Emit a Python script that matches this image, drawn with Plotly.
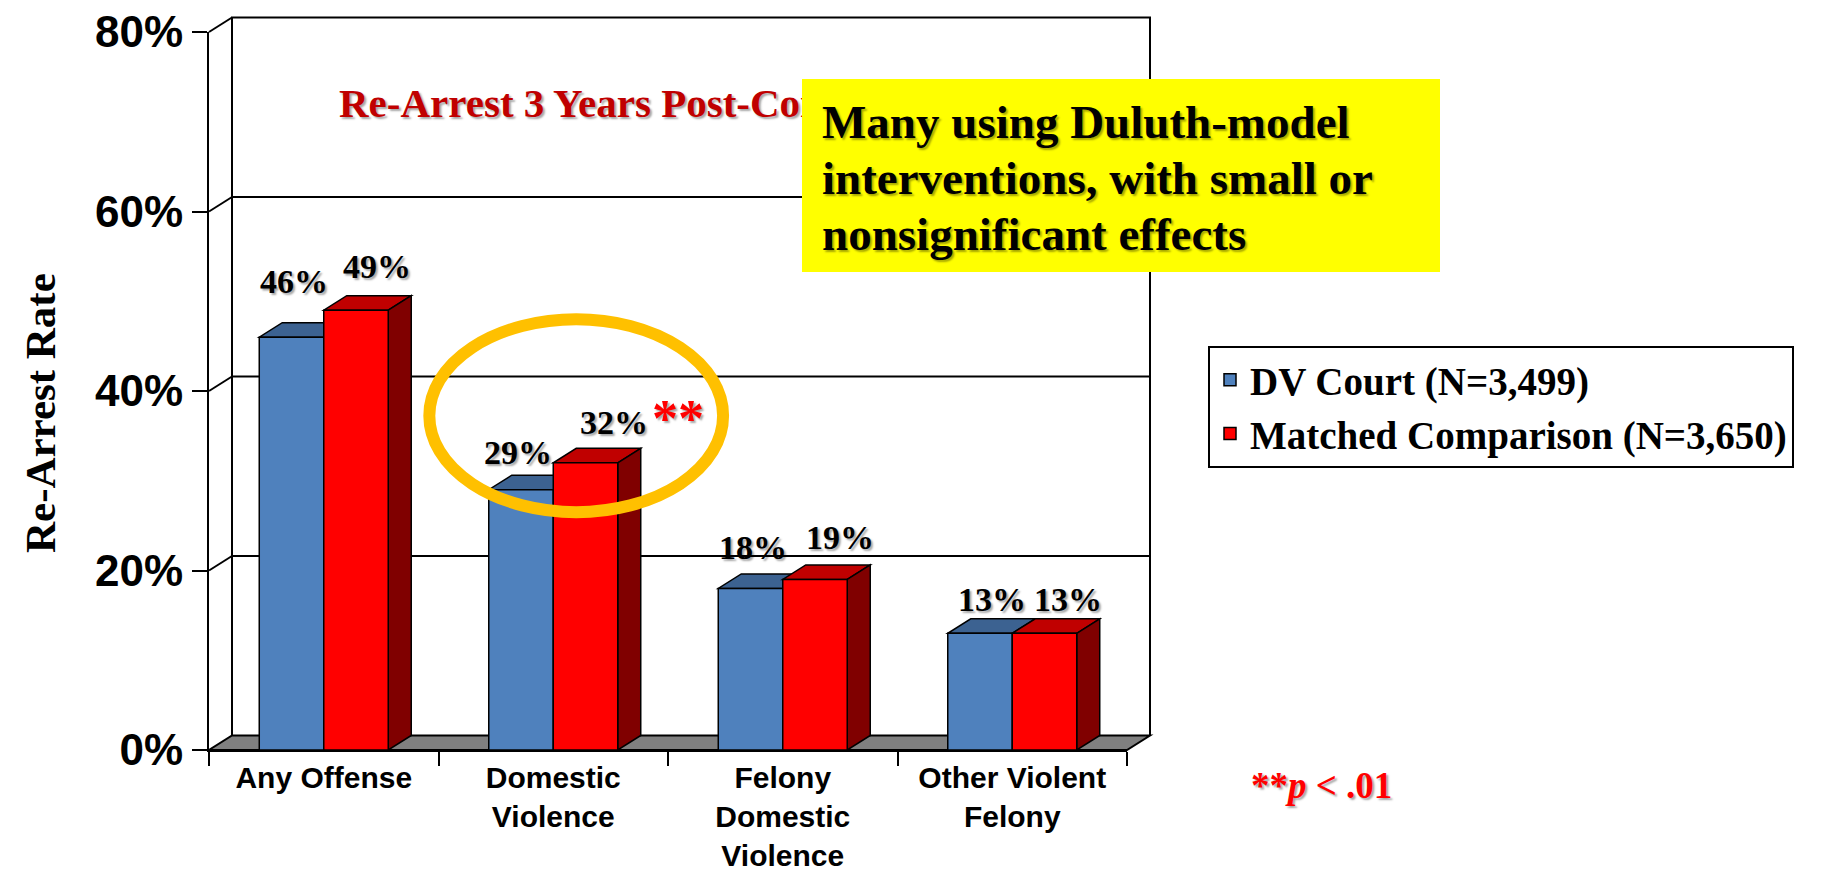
import plotly.graph_objects as go

# ---------------- data ----------------
categories = ["Any Offense", "Domestic<br>Violence", "Felony<br>Domestic<br>Violence", "Other Violent<br>Felony"]
dv_court = [46, 29, 18, 13]
matched = [49, 32, 19, 13]
series_names = ["DV Court (N=3,499)", "Matched Comparison (N=3,650)"]
y_tick_vals = [0, 20, 40, 60, 80]
y_tick_text = ["0%", "20%", "40%", "60%", "80%"]
callout_lines = ["Many using Duluth-model", "interventions, with small or", "nonsignificant effects"]

# ---------------- layout constants ----------------
W, H = 1824, 870
ML, MR, MT, MB = 201, 705, 24, 128
PW = W - ML - MR
PH = H - MT - MB
Y_MAX = 80
N = len(categories)
BAR = 0.281                      # bar width in category units
DX = 23 / (PW / N)               # 3-D depth, category units
DY = 14.5 / (PH / Y_MAX)         # 3-D depth, % units
DXP, DYP = DX / N, DY / Y_MAX    # same depth in paper units

SERIF = "Times New Roman, Liberation Serif, serif"
SANS = "Arial, Liberation Sans, sans-serif"
SHADOW = "2px 2px 2px rgba(0,0,0,0.35)"

BLUE, BLUE_TOP = "#4F81BD", "#3C6291"
RED, RED_TOP, RED_SIDE = "#FF0000", "#C00000", "#800000"

# label offsets (pixels) relative to the top-front centre of each bar
blue_lbl_shift = [(2, 56), (-3, 37), (2, 41), (12, 34)]
red_lbl_shift = [(21, 44), (29, 40), (25, 42), (24, 34)]


def px_to_paper_x(px):
    return (px - ML) / PW


def px_to_paper_y(py):
    return 1 - (py - MT) / PH


fig = go.Figure()
fig.add_trace(go.Bar(x=categories, y=dv_court, name=series_names[0],
                     marker=dict(color=BLUE, line=dict(color="black", width=1.5))))
fig.add_trace(go.Bar(x=categories, y=matched, name=series_names[1],
                     marker=dict(color=RED, line=dict(color="black", width=1.5))))

shapes = []
LINE = dict(color="black", width=2)
# back wall outline
shapes.append(dict(type="path", xref="paper", yref="paper", layer="below",
                   path=f"M{DXP},{DYP} L{DXP},{1 + DYP} L{1 + DXP},{1 + DYP} L{1 + DXP},{DYP}",
                   line=LINE))
# back-wall gridlines
for t in y_tick_vals[1:-1]:
    yp = t / Y_MAX + DYP
    shapes.append(dict(type="line", xref="paper", yref="paper", layer="below",
                       x0=DXP, x1=1 + DXP, y0=yp, y1=yp, line=LINE))
# side-wall diagonals at each tick
for t in y_tick_vals[1:]:
    shapes.append(dict(type="line", xref="paper", yref="paper", layer="below",
                       x0=0, x1=DXP, y0=t / Y_MAX, y1=t / Y_MAX + DYP, line=LINE))
# floor
shapes.append(dict(type="path", xref="paper", yref="paper", layer="below",
                   path=f"M0,0 L1,0 L{1 + DXP},{DYP} L{DXP},{DYP} Z",
                   fillcolor="#808080", line=LINE))

# bar tops and sides
for i in range(N):
    for left, v, col in ((i - BAR, dv_court[i], BLUE_TOP), (i, matched[i], RED_TOP)):
        shapes.append(dict(type="path", xref="x", yref="y", layer="below",
                           path=(f"M{left},{v} L{left + BAR},{v} L{left + BAR + DX},{v + DY} "
                                 f"L{left + DX},{v + DY} Z"),
                           fillcolor=col, line=dict(color="black", width=1.5)))
    rr = i + BAR
    v = matched[i]
    shapes.append(dict(type="path", xref="x", yref="y", layer="below",
                       path=f"M{rr},0 L{rr},{v} L{rr + DX},{v + DY} L{rr + DX},{DY} Z",
                       fillcolor=RED_SIDE, line=dict(color="black", width=1.5)))

# highlight ellipse around Domestic Violence
shapes.append(dict(type="circle", xref="x", yref="y", layer="above",
                   x0=0.46, x1=1.74, y0=26.5, y1=48.0,
                   line=dict(color="#FFC000", width=12)))

annotations = []
lbl_font = dict(family=SERIF, size=34, color="black", weight=700, shadow=SHADOW)
for i in range(N):
    for off, vals, shifts in ((-BAR / 2, dv_court, blue_lbl_shift), (BAR / 2, matched, red_lbl_shift)):
        annotations.append(dict(x=i + off, y=vals[i], xref="x", yref="y",
                                text=f"{vals[i]}%", showarrow=False,
                                xshift=shifts[i][0], yshift=shifts[i][1],
                                xanchor="center", yanchor="middle", font=lbl_font))

# significance stars next to the DV label
annotations.append(dict(x=px_to_paper_x(670), y=px_to_paper_y(410), xref="paper", yref="paper",
                        text="**", showarrow=False, xanchor="center", yanchor="middle",
                        font=dict(family=SERIF, size=52, color="#FF0000", weight=700, shadow=SHADOW)))

# chart title (partially hidden by the call-out)
annotations.append(dict(x=px_to_paper_x(329), y=px_to_paper_y(95), xref="paper", yref="paper",
                        text="Re-Arrest 3 Years Post-Conviction", showarrow=False,
                        xanchor="left", yanchor="middle",
                        font=dict(family=SERIF, size=41, color="#C00000", weight=700, shadow=SHADOW)))

# yellow call-out box
annotations.append(dict(x=px_to_paper_x(1113), y=px_to_paper_y(167.5), xref="paper", yref="paper",
                        text=" ", showarrow=False, xanchor="center", yanchor="middle",
                        width=638, height=193, borderpad=0, borderwidth=0,
                        bgcolor="#FFFF00", font=dict(size=10)))
for k, line in enumerate(callout_lines):
    annotations.append(dict(x=px_to_paper_x(812), y=px_to_paper_y(114 + 56 * k), xref="paper", yref="paper",
                            text=line, showarrow=False, xanchor="left", yanchor="middle", align="left",
                            font=dict(family=SERIF, size=47, color="black", weight=700, shadow=SHADOW)))

# p-value note
annotations.append(dict(x=px_to_paper_x(1313), y=px_to_paper_y(777), xref="paper", yref="paper",
                        text="**<i>p</i> &lt; .01", showarrow=False, xanchor="center", yanchor="middle",
                        font=dict(family=SERIF, size=37, color="#FF0000", weight=700, shadow=SHADOW)))

# y-axis title
annotations.append(dict(x=px_to_paper_x(32), y=px_to_paper_y(405), xref="paper", yref="paper",
                        text="Re-Arrest Rate", showarrow=False, textangle=-90,
                        xanchor="center", yanchor="middle",
                        font=dict(family=SERIF, size=43, color="black", weight=700)))

fig.update_layout(
    width=W, height=H,
    margin=dict(l=ML, r=MR, t=MT, b=MB, autoexpand=False),
    paper_bgcolor="white", plot_bgcolor="rgba(0,0,0,0)",
    barmode="group", bargap=1 - 2 * BAR, bargroupgap=0,
    shapes=shapes, annotations=annotations,
    legend=dict(x=px_to_paper_x(1200), y=px_to_paper_y(338), xanchor="left", yanchor="top",
                bordercolor="black", borderwidth=2, bgcolor="white",
                font=dict(family=SERIF, size=39, color="black", weight=700),
                tracegroupgap=0),
    xaxis=dict(type="category", range=[-0.5, N - 0.5], tickson="boundaries",
               ticks="outside", ticklen=14, tickwidth=2, tickcolor="black",
               showline=True, linecolor="black", linewidth=2, showgrid=False,
               tickfont=dict(family=SANS, size=30, color="black", weight=700)),
    yaxis=dict(range=[0, Y_MAX], tickvals=y_tick_vals, ticktext=y_tick_text,
               ticks="outside", ticklen=15, tickwidth=2, tickcolor="black",
               showline=True, linecolor="black", linewidth=2, showgrid=False, zeroline=False,
               ticklabeloverflow="allow",
               tickfont=dict(family=SANS, size=44, color="black", weight=700)),
)

fig.write_html("out.html")
